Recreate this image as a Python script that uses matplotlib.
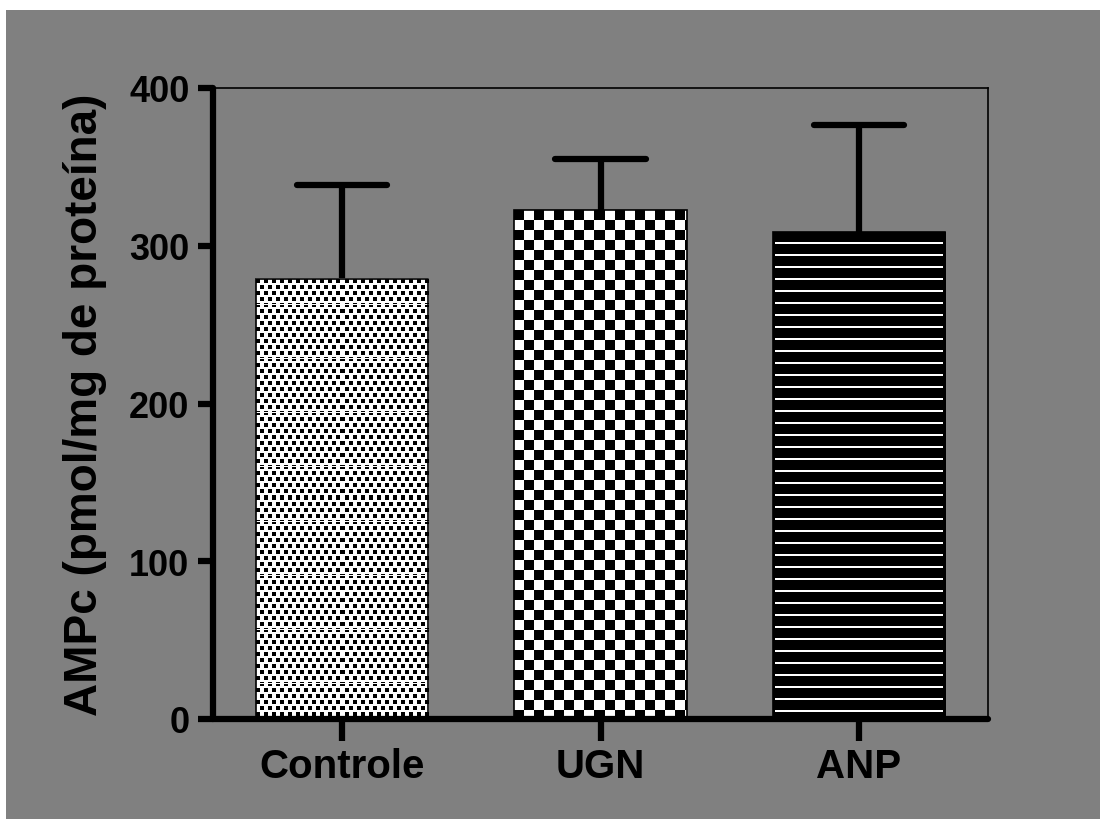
import numpy as np
import matplotlib
matplotlib.use("Agg")
import matplotlib.pyplot as plt
from matplotlib.patches import Rectangle

# data
groups = ["Controle", "UGN", "ANP"]
means = [279, 322.5, 308.5]
sems = [59.5, 32.5, 68]
patterns = ["fine", "checker", "lines"]
yticks = [0, 100, 200, 300, 400]

plt.rcParams['font.family'] = ['Liberation Sans', 'DejaVu Sans']
plt.rcParams['font.weight'] = 'bold'

fig = plt.figure(figsize=(11, 8.2), dpi=100, facecolor='white')
# grey panel (white strip left and top)
fig.patches.append(Rectangle((6/1100, 0), 1, 1 - 11/820, transform=fig.transFigure,
                             facecolor='#808080', edgecolor='none', zorder=-10))

ax = fig.add_axes([213/1100, 100/820, 775/1100, 631/820])
ax.set_facecolor('none')
ax.set_xlim(-0.5, 2.5)
ax.set_ylim(0, 400)

x = np.arange(len(groups))
width = 0.667
bars = ax.bar(x, means, width=width, facecolor='none', edgecolor='black',
              linewidth=1.2, zorder=3)


def texture(kind, h, w):
    yy, xx = np.mgrid[0:h, 0:w]
    if kind == "checker":
        t = ((xx // 10 + yy // 10) % 2 == 0)
    elif kind == "fine":
        row = yy // 6
        cx = (xx + (row % 2) * 4) % 8
        cy = yy % 6
        t = (cx < 4) & (cy >= 1) & (cy < 5)
        t = t & (yy % 27 != 26)
    else:
        t = ~((yy % 12) >= 10)
        t[:, :2] = True
        t[:, -3:] = True
    img = np.where(t, 0.0, 1.0)
    return img


for b, kind in zip(bars, patterns):
    x0, y0 = b.get_x(), b.get_y()
    x1, y1 = x0 + b.get_width(), y0 + b.get_height()
    p0 = ax.transData.transform((x0, y0))
    p1 = ax.transData.transform((x1, y1))
    w_px = int(round(p1[0] - p0[0]))
    h_px = int(round(p1[1] - p0[1]))
    img = texture(kind, h_px, w_px)
    ax.imshow(img, cmap='gray', vmin=0, vmax=1, extent=(x0, x1, y0, y1),
              origin='upper', interpolation='nearest', aspect='auto', zorder=2)

ax.set_xlim(-0.5, 2.5)
ax.set_ylim(0, 400)

# error bars (upper only)
cap = 0.175
ax.vlines(x, means, np.add(means, sems), color='black', linewidth=4.5,
          capstyle='butt', zorder=1)
ax.hlines(np.add(means, sems), x - cap, x + cap, color='black', linewidth=4.5,
          capstyle='round', zorder=3)

ax.set_xticks(x)
ax.set_xticklabels(groups, fontsize=29, fontweight='bold')
ax.set_yticks(yticks)
ax.set_yticklabels([str(v) for v in yticks], fontsize=26, fontweight='bold')
ax.tick_params(axis='y', direction='out', length=11, width=4.5, pad=6)
ax.tick_params(axis='x', direction='out', length=16, width=4.5, pad=4)
for t in ax.yaxis.get_ticklines() + ax.xaxis.get_ticklines():
    t.set_solid_capstyle('round')

for s in ['left', 'bottom']:
    ax.spines[s].set_linewidth(4.5)
    ax.spines[s].set_capstyle('round')
for s in ['top', 'right']:
    ax.spines[s].set_linewidth(1.2)
ax.spines['bottom'].set_zorder(4)
ax.spines['left'].set_zorder(4)

ax.set_ylabel("AMPc (pmol/mg de proteína)", fontsize=33, fontweight='bold', labelpad=16)

fig.savefig("out.png", dpi=100, facecolor=fig.get_facecolor())
